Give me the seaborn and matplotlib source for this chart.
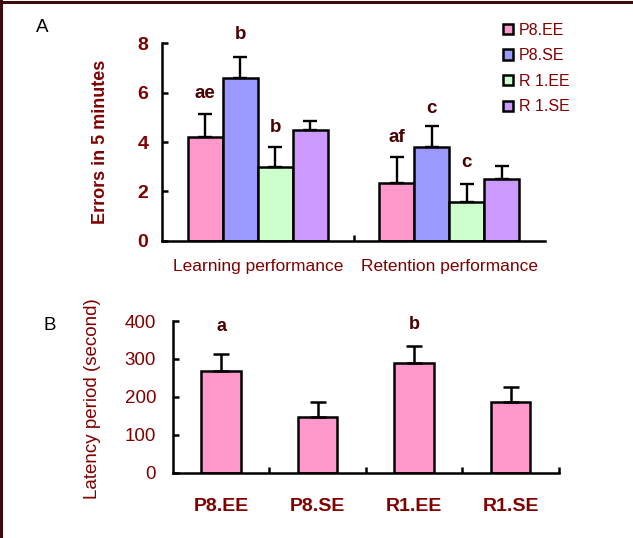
import numpy as np
import pandas as pd
import matplotlib
matplotlib.use("Agg")
import matplotlib.pyplot as plt
from matplotlib.lines import Line2D
import seaborn as sns

# ---- data ----
tasks = ["Learning performance", "Retention performance"]
groups = ["P8.EE", "P8.SE", "R1.EE", "R1.SE"]
legend_labels = ["P8.EE", "P8.SE", "R 1.EE", "R 1.SE"]

learn_mean = [4.2, 6.6, 3.0, 4.48]
learn_sem = [0.92, 0.85, 0.78, 0.38]
retain_mean = [2.35, 3.8, 1.58, 2.52]
retain_sem = [1.03, 0.84, 0.72, 0.5]
letters_a = [["ae", "b", "b", ""], ["af", "c", "c", ""]]
letter_y_a = [[5.95, 8.34, 4.57, 0], [4.17, 5.34, 3.15, 0]]

latency_mean = [269, 148, 290, 187]
latency_sem = [44, 38, 45, 40]
letters_b = ["a", "", "b", ""]
letter_y_b = [385, 0, 392, 0]

colors = ["#FF99CC", "#9999FF", "#CCFFCC", "#CC99FF"]
dark_red = "#800000"
letter_col = "#4a0000"

sns.set_style("ticks", {"xtick.direction": "in", "ytick.direction": "in"})
plt.rcParams["font.family"] = ["Liberation Sans", "DejaVu Sans"]

df_a = pd.DataFrame({
    "task": np.repeat(tasks, len(groups)),
    "group": groups * len(tasks),
    "errors": learn_mean + retain_mean,
})
sem_a = [learn_sem, retain_sem]

fig = plt.figure(figsize=(6.33, 5.38), dpi=100)
fig.patch.set_facecolor("white")

# ---------------- panel A ----------------
axA = fig.add_axes([0.256, 0.5526, 0.605, 0.3669])
sns.barplot(data=df_a, x="task", y="errors", hue="group", hue_order=groups,
            palette=colors, saturation=1, width=0.73, errorbar=None,
            edgecolor="black", linewidth=1.8, ax=axA)
bar_conts = list(axA.containers)
for gi, cont in enumerate(bar_conts):
    for ti, bar in enumerate(cont.patches):
        xc = bar.get_x() + bar.get_width() / 2
        h = bar.get_height()
        axA.errorbar(xc, h, yerr=[[0], [sem_a[ti][gi]]], fmt="none",
                     ecolor="black", elinewidth=1.7, capsize=4.7, capthick=1.7,
                     zorder=1)
        if letters_a[ti][gi]:
            axA.text(xc, letter_y_a[ti][gi], letters_a[ti][gi], ha="center",
                     va="center", fontsize=13.5, fontweight="bold",
                     color=letter_col, clip_on=False)

axA.set_ylim(0, 8)
axA.set_xlim(-0.5, 1.5)
axA.set_yticks([0, 2, 4, 6, 8])
axA.set_xticks([0, 1])
axA.set_xticks([0.5], minor=True)
axA.set_xlabel("")
axA.set_ylabel("Errors in 5 minutes", fontsize=13, fontweight="bold", color=dark_red)
axA.yaxis.set_label_coords(-0.138, 0.5)
axA.tick_params(axis="y", labelsize=14, length=4, width=1.8, pad=10,
                colors="black", labelcolor=dark_red)
for t in axA.get_yticklabels():
    t.set_fontweight("bold")
axA.tick_params(axis="x", which="major", length=0, pad=13, labelsize=12.5,
                labelcolor=dark_red)
axA.tick_params(axis="x", which="minor", length=4, width=1.8, color="black")
sns.despine(ax=axA)
for s in ["left", "bottom"]:
    axA.spines[s].set_linewidth(1.8)
    axA.spines[s].set_color("black")

handles, _ = axA.get_legend_handles_labels()
for h in handles:
    h.set_linewidth(1.8)
axA.legend(handles, legend_labels, loc="upper left", bbox_to_anchor=(0.795, 0.958),
           bbox_transform=fig.transFigure, frameon=False, fontsize=11.5,
           handlelength=0.6, handleheight=0.6, handletextpad=0.4,
           labelspacing=0.66, borderpad=0, borderaxespad=0, labelcolor=dark_red)

# ---------------- panel B ----------------
df_b = pd.DataFrame({"group": groups, "latency": latency_mean})
axB = fig.add_axes([0.273, 0.1214, 0.610, 0.2819])
sns.barplot(data=df_b, x="group", y="latency", color=colors[0], saturation=1,
            width=0.41, errorbar=None, edgecolor="black", linewidth=1.8, ax=axB)
for i, bar in enumerate(list(axB.containers[0].patches)):
    xc = bar.get_x() + bar.get_width() / 2
    axB.errorbar(xc, bar.get_height(), yerr=[[0], [latency_sem[i]]], fmt="none",
                 ecolor="black", elinewidth=1.8, capsize=5.8, capthick=1.8, zorder=1)
    if letters_b[i]:
        axB.text(xc, letter_y_b[i], letters_b[i], ha="center", va="center",
                 fontsize=13, fontweight="bold", color=letter_col, clip_on=False)

axB.set_ylim(0, 400)
axB.set_xlim(-0.5, 3.5)
axB.set_yticks([0, 100, 200, 300, 400])
axB.set_xticks([0, 1, 2, 3])
axB.set_xticks([0.5, 1.5, 2.5, 3.5], minor=True)
axB.set_xlabel("")
axB.set_ylabel("Latency period (second)", fontsize=13.5, color=dark_red)
axB.yaxis.set_label_coords(-0.186, 0.486)
axB.tick_params(axis="y", labelsize=13.5, length=4, width=1.8, pad=12,
                colors="black", labelcolor=dark_red)
axB.tick_params(axis="x", which="major", length=0, pad=18, labelsize=14,
                labelcolor=dark_red)
axB.tick_params(axis="x", which="minor", length=4, width=1.8, color="black")
for t in axB.get_xticklabels():
    t.set_fontweight("bold")
sns.despine(ax=axB)
for s in ["left", "bottom"]:
    axB.spines[s].set_linewidth(1.8)
    axB.spines[s].set_color("black")

# panel letters
fig.text(0.057, 1 - 28 / 538, "A", fontsize=13.5, ha="left", va="center", color="black")
fig.text(0.068, 1 - 326 / 538, "B", fontsize=13.5, ha="left", va="center", color="black")

# dark border on top and left edges
fig.add_artist(Line2D([0.002, 0.002], [0, 1], transform=fig.transFigure,
                      color="#3c0c0c", linewidth=2.2))
fig.add_artist(Line2D([0, 1], [0.997, 0.997], transform=fig.transFigure,
                      color="#3c0c0c", linewidth=2.2))

fig.savefig("out.png", dpi=100, facecolor="white")
